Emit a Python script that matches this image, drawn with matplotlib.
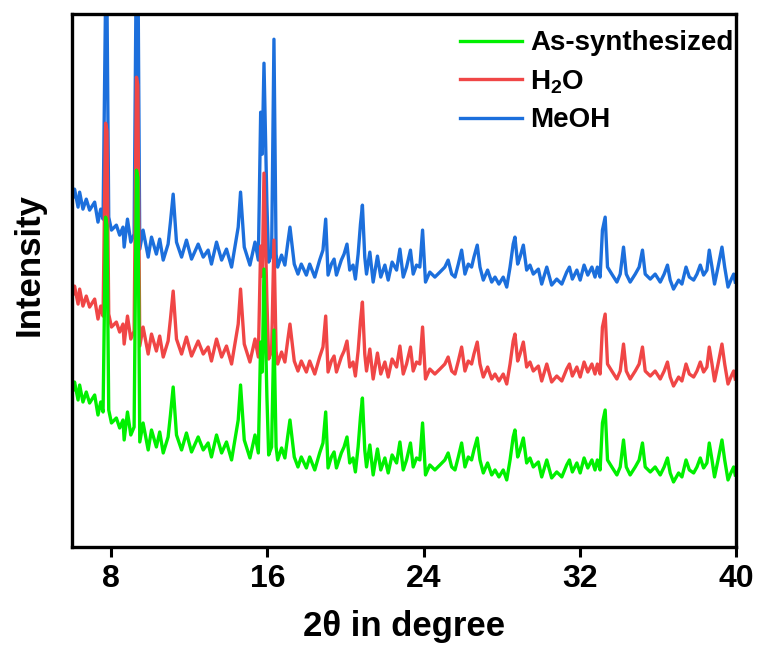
import numpy as np
import matplotlib
matplotlib.use('Agg')
import matplotlib.pyplot as plt

plt.rcParams['font.family'] = ['Liberation Sans', 'DejaVu Sans']
plt.rcParams['font.weight'] = 'bold'
plt.rcParams['mathtext.fontset'] = 'custom'
plt.rcParams['mathtext.rm'] = 'Liberation Sans:bold'
plt.rcParams['mathtext.bf'] = 'Liberation Sans:bold'

# XRD pattern (2theta in degree, counts of the as-synthesized sample)
two_theta = [6.05, 6.13, 6.31, 6.39, 6.56, 6.73, 6.90, 7.16, 7.33, 7.47, 7.59,
             7.88, 8.02, 8.27, 8.44, 8.61, 8.67, 8.84, 9.01, 9.18,
             9.47, 9.64, 9.90, 10.07, 10.32, 10.49, 10.67, 10.92, 11.04, 11.18,
             11.35, 11.61, 11.86, 12.12, 12.46, 12.72, 12.97, 13.14, 13.40, 13.66,
             13.91, 14.17, 14.34, 14.51, 14.63, 14.82, 15.11, 15.37, 15.54,
             15.98, 16.07, 16.22,
             16.45, 16.53, 16.73, 16.90, 17.04, 17.16, 17.38, 17.57, 17.74, 18.00,
             18.17, 18.43, 18.68, 18.85, 18.99, 19.11, 19.28, 19.42, 19.54, 19.79,
             19.93, 20.08, 20.22, 20.39, 20.51, 20.65, 20.77, 20.87, 20.99, 21.08,
             21.25, 21.42, 21.64, 21.81, 22.02, 22.19, 22.39, 22.62, 22.79, 22.96,
             23.13, 23.33, 23.47, 23.64, 23.81, 23.95, 24.10, 24.32, 24.58, 24.84,
             25.09, 25.26, 25.44, 25.61, 25.78, 25.95, 26.12, 26.29, 26.46, 26.58,
             26.75, 26.89, 27.06, 27.28, 27.49, 27.66, 27.86, 28.08, 28.26, 28.43,
             28.59, 28.68, 28.82, 28.94, 29.11, 29.28, 29.45, 29.62, 29.88, 30.05,
             30.31, 30.56, 30.82, 31.08, 31.33, 31.47, 31.62, 31.85, 32.02, 32.22,
             32.41, 32.62, 32.78, 32.90, 33.04, 33.16, 33.30, 33.42, 33.64, 33.90,
             34.07, 34.24, 34.38, 34.58, 34.84, 35.04, 35.21, 35.35, 35.61, 35.86,
             36.12, 36.32, 36.49, 36.63, 36.80, 37.06, 37.23, 37.44, 37.61, 37.83,
             38.00, 38.17, 38.34, 38.51, 38.63, 38.77, 38.90, 39.08, 39.28, 39.42,
             39.59, 39.76, 39.88, 39.96]
counts = [157, 165, 147, 162, 145, 155, 144, 152, 132, 145, 135,
          137, 124, 129, 119, 127, 107, 135, 112, 120,
          105, 124, 97, 117, 100, 115, 94, 110, 132, 160,
          112, 97, 114, 95, 110, 97, 104, 90, 112, 94,
          105, 87, 107, 127, 162, 107, 89, 112, 94,
          150, 92, 100,
          100, 87, 99, 89, 110, 127, 90, 80, 90, 79,
          90, 77, 94, 104, 135, 79, 90, 95, 79, 94,
          100, 110, 84, 89, 75, 100, 130, 149, 97, 80,
          102, 72, 98, 77, 89, 74, 92, 84, 105, 77,
          87, 104, 80, 89, 87, 124, 72, 82, 77, 82,
          87, 94, 80, 77, 90, 104, 80, 90, 87, 97,
          109, 87, 74, 84, 72, 77, 70, 77, 67, 87,
          110, 117, 90, 97, 109, 84, 89, 80, 85, 70,
          87, 69, 75, 70, 82, 87, 75, 84, 74, 89,
          79, 87, 77, 87, 77, 124, 137, 87, 80, 72,
          80, 107, 80, 72, 80, 87, 104, 80, 75, 80,
          72, 80, 89, 74, 65, 74, 70, 87, 77, 74,
          80, 89, 79, 84, 104, 87, 70, 87, 107, 87,
          67, 75, 80, 72]

# strong reflections, tops differ between the samples
strong_pos = [7.72, 7.79, 9.30, 9.37, 15.66, 15.74, 15.83, 16.34]
assyn_tops = [330, 322, 377, 370, 205, 175, 278, 217]
h2o_tops = [328, 320, 374, 366, 205, 175, 278, 211]
meoh_tops = [360, 355, 420, 410, 242, 200, 291, 315]

labels = ['As-synthesized', 'H$_{2}$O', 'MeOH']
offsets = [0, 96, 193]
colors = ['#00f000', '#f04646', '#1c6fdc']


def pattern(tops):
    x = np.array(two_theta + strong_pos)
    y = np.array(counts + tops, dtype=float)
    order = np.argsort(x)
    return x[order], y[order]


fig = plt.figure(figsize=(7.58, 6.48), dpi=100)
ax = fig.add_axes([0.095, 0.156, 0.876, 0.822])

lines = []
for tops, off, col, lab in reversed(list(zip([assyn_tops, h2o_tops, meoh_tops], offsets, colors, labels))):
    x, y = pattern(tops)
    ln, = ax.plot(x, y + off, color=col, lw=2.4, label=lab)
    lines.append(ln)
lines = lines[::-1]

ax.set_xlim(6, 40)
ax.set_ylim(0, 533)
ax.set_xticks([8, 16, 24, 32, 40])
ax.set_yticks([])
ax.tick_params(axis='x', direction='out', length=7, width=2.2, labelsize=23, pad=5)
for s in ax.spines.values():
    s.set_linewidth(2.4)

ax.set_xlabel('2θ in degree', fontsize=25, fontweight='bold', labelpad=12)
ax.set_ylabel('Intensity', fontsize=25, fontweight='bold')
ax.yaxis.set_label_coords(-0.04, 0.53)

ax.legend(lines, labels, loc='upper right', bbox_to_anchor=(1.0, 0.975), frameon=False,
          fontsize=20, handlelength=2.2, handletextpad=0.3, labelspacing=0.42,
          borderaxespad=0.0, borderpad=0.1)

plt.savefig('out.png', dpi=100)
